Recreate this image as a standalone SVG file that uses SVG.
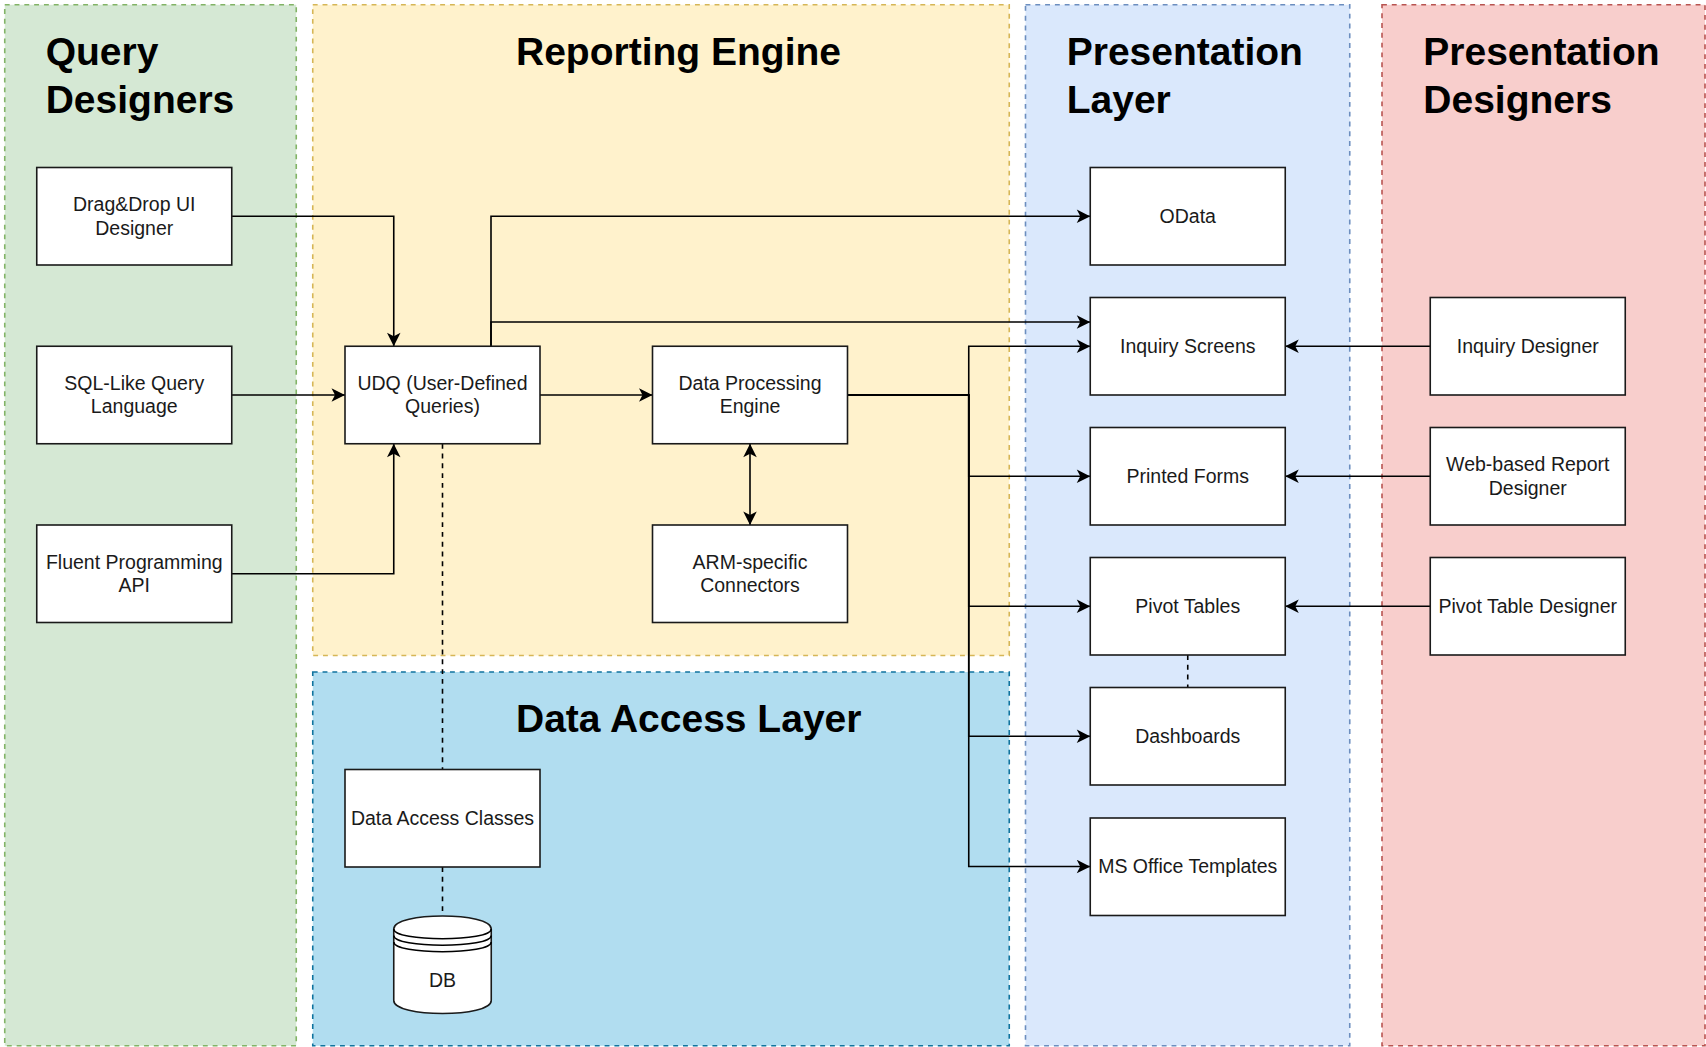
<svg xmlns="http://www.w3.org/2000/svg" width="1706" height="1047" viewBox="0 0 1706 1047">
<defs>
<style>
.cont{stroke-width:1.6;stroke-dasharray:4.9 4.9}
.title{font-family:"Liberation Sans",Arial,sans-serif;font-weight:bold;font-size:39px;fill:#000}
.box{fill:#fff;stroke:#1a1a1a;stroke-width:1.6}
.lbl{font-family:"Liberation Sans",Arial,sans-serif;font-size:19.5px;fill:#1a1a1a;text-anchor:middle}
.edge{fill:none;stroke:#000;stroke-width:1.6}
.dash{fill:none;stroke:#000;stroke-width:1.6;stroke-dasharray:4.9 4.9}
</style>
<marker id="arr" viewBox="-14 -7 14 14" refX="0" refY="0" markerWidth="14" markerHeight="14" markerUnits="userSpaceOnUse" orient="auto-start-reverse">
<path d="M0,0 L-13.5,-6.75 L-10,0 L-13.5,6.75 Z" fill="#000"/>
</marker>
</defs>

<g id="containers">
<g id="query-designers">
<rect class="cont" x="4.75" y="4.75" width="291.5" height="1041" fill="#d5e8d4" stroke="#82b366"/>
<text class="title" x="45.7" y="65">Query</text>
<text class="title" x="45.7" y="113">Designers</text>
</g>
<g id="reporting-engine">
<rect class="cont" x="312.75" y="4.75" width="696.5" height="650.75" fill="#fff2cc" stroke="#d6b656"/>
<text class="title" x="516" y="65">Reporting Engine</text>
</g>
<g id="data-access-layer">
<rect class="cont" x="312.75" y="672" width="696.5" height="373.75" fill="#b1ddf0" stroke="#10739e"/>
<text class="title" x="516" y="732">Data Access Layer</text>
</g>
<g id="presentation-layer">
<rect class="cont" x="1025.5" y="4.75" width="324.25" height="1041" fill="#dae8fc" stroke="#6c8ebf"/>
<text class="title" x="1066.7" y="65">Presentation</text>
<text class="title" x="1066.7" y="112.5">Layer</text>
</g>
<g id="presentation-designers">
<rect class="cont" x="1382" y="4.75" width="323" height="1041" fill="#f8cecc" stroke="#b85450"/>
<text class="title" x="1423.3" y="65">Presentation</text>
<text class="title" x="1423.3" y="112.5">Designers</text>
</g>
</g>

<g id="connectors">
<path class="edge" d="M231.75,216.25 H393.75 V346.25" marker-end="url(#arr)"/>
<path class="edge" d="M231.75,395 H345" marker-end="url(#arr)"/>
<path class="edge" d="M231.75,573.75 H393.75 V443.75" marker-end="url(#arr)"/>
<path class="edge" d="M539.75,395 H652.5" marker-end="url(#arr)"/>
<path class="edge" d="M491,346.25 V216.25 H1090.25" marker-end="url(#arr)"/>
<path class="edge" d="M491,346.25 V322 H1090.25" marker-end="url(#arr)"/>
<path class="edge" d="M847.25,395 H968.75 V346.25 H1090.25" marker-end="url(#arr)"/>
<path class="edge" d="M847.25,395 H968.75 V476.25 H1090.25" marker-end="url(#arr)"/>
<path class="edge" d="M847.25,395 H968.75 V606.25 H1090.25" marker-end="url(#arr)"/>
<path class="edge" d="M847.25,395 H968.75 V736.25 H1090.25" marker-end="url(#arr)"/>
<path class="edge" d="M847.25,395 H968.75 V866.5 H1090.25" marker-end="url(#arr)"/>
<path class="edge" d="M750,443.75 V525" marker-start="url(#arr)" marker-end="url(#arr)"/>
<path class="edge" d="M1430.25,346.25 H1285.25" marker-end="url(#arr)"/>
<path class="edge" d="M1430.25,476.25 H1285.25" marker-end="url(#arr)"/>
<path class="edge" d="M1430.25,606.25 H1285.25" marker-end="url(#arr)"/>
<path class="dash" d="M1187.75,655 V687.5"/>
<path class="dash" d="M442.5,443.75 V769.5"/>
<path class="dash" d="M442.5,867 V916"/>
</g>

<g id="dragdrop"><rect class="box" x="36.75" y="167.5" width="195" height="97.5"/><text class="lbl" x="134.25" y="211">Drag&amp;Drop UI</text><text class="lbl" x="134.25" y="234.5">Designer</text></g>
<g id="sqllike"><rect class="box" x="36.75" y="346.25" width="195" height="97.5"/><text class="lbl" x="134.25" y="389.75">SQL-Like Query</text><text class="lbl" x="134.25" y="413.25">Language</text></g>
<g id="fluent"><rect class="box" x="36.75" y="525" width="195" height="97.5"/><text class="lbl" x="134.25" y="568.5">Fluent Programming</text><text class="lbl" x="134.25" y="592">API</text></g>
<g id="udq"><rect class="box" x="345" y="346.25" width="195" height="97.5"/><text class="lbl" x="442.5" y="389.75">UDQ (User-Defined</text><text class="lbl" x="442.5" y="413.25">Queries)</text></g>
<g id="dpe"><rect class="box" x="652.5" y="346.25" width="195" height="97.5"/><text class="lbl" x="750" y="389.75">Data Processing</text><text class="lbl" x="750" y="413.25">Engine</text></g>
<g id="arm"><rect class="box" x="652.5" y="525" width="195" height="97.5"/><text class="lbl" x="750" y="568.5">ARM-specific</text><text class="lbl" x="750" y="592">Connectors</text></g>
<g id="dac"><rect class="box" x="345" y="769.5" width="195" height="97.5"/><text class="lbl" x="442.5" y="824.5">Data Access Classes</text></g>
<g id="db">
<path class="box" d="M393.75,929 C393.75,911.67 491.25,911.67 491.25,929 L491.25,1000.5 C491.25,1017.83 393.75,1017.83 393.75,1000.5 Z"/>
<path class="edge" d="M393.75,929 C393.75,942 491.25,942 491.25,929 M393.75,935.5 C393.75,948.5 491.25,948.5 491.25,935.5 M393.75,942 C393.75,955 491.25,955 491.25,942"/>
<text class="lbl" x="442.5" y="987">DB</text>
</g>
<g id="odata"><rect class="box" x="1090.25" y="167.5" width="195" height="97.5"/><text class="lbl" x="1187.75" y="222.75">OData</text></g>
<g id="inquiry-screens"><rect class="box" x="1090.25" y="297.5" width="195" height="97.5"/><text class="lbl" x="1187.75" y="352.75">Inquiry Screens</text></g>
<g id="printed-forms"><rect class="box" x="1090.25" y="427.5" width="195" height="97.5"/><text class="lbl" x="1187.75" y="482.75">Printed Forms</text></g>
<g id="pivot-tables"><rect class="box" x="1090.25" y="557.5" width="195" height="97.5"/><text class="lbl" x="1187.75" y="612.75">Pivot Tables</text></g>
<g id="dashboards"><rect class="box" x="1090.25" y="687.5" width="195" height="97.5"/><text class="lbl" x="1187.75" y="742.75">Dashboards</text></g>
<g id="ms-office"><rect class="box" x="1090.25" y="818" width="195" height="97.5"/><text class="lbl" x="1187.75" y="873.25">MS Office Templates</text></g>
<g id="inquiry-designer"><rect class="box" x="1430.25" y="297.5" width="195" height="97.5"/><text class="lbl" x="1527.75" y="352.75">Inquiry Designer</text></g>
<g id="web-designer"><rect class="box" x="1430.25" y="427.5" width="195" height="97.5"/><text class="lbl" x="1527.75" y="471">Web-based Report</text><text class="lbl" x="1527.75" y="494.5">Designer</text></g>
<g id="pivot-designer"><rect class="box" x="1430.25" y="557.5" width="195" height="97.5"/><text class="lbl" x="1527.75" y="612.75">Pivot Table Designer</text></g>
</svg>
